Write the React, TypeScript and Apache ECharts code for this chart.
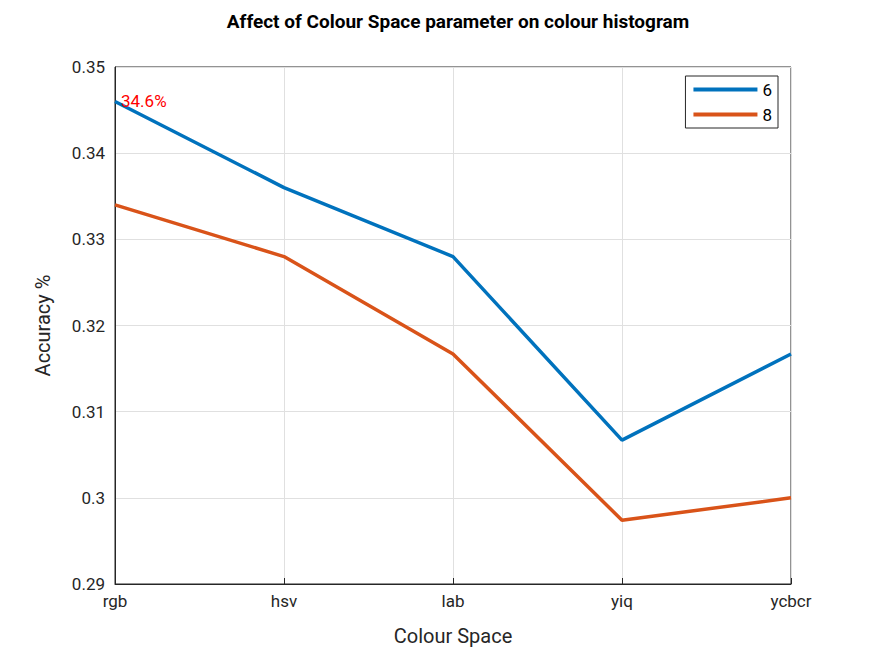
import React, { useEffect, useRef } from "react";
import * as echarts from "echarts";

const categories = ["rgb", "hsv", "lab", "yiq", "ycbcr"];
const series6 = [0.346, 0.336, 0.328, 0.3067, 0.3167];
const series8 = [0.334, 0.328, 0.3167, 0.2974, 0.3];
const yTicks = [0.29, 0.3, 0.31, 0.32, 0.33, 0.34, 0.35];

const FONT = "Roboto, 'DejaVu Sans', sans-serif";

const App: React.FC = () => {
    const chartRef = useRef<HTMLDivElement | null>(null);

    useEffect(() => {
        if (!chartRef.current) return;
        const chart = echarts.init(chartRef.current, undefined, { renderer: "svg" });
        chart.setOption({
            animation: false,
            backgroundColor: "#fff",
            title: {
                text: "Affect of Colour Space parameter on colour histogram",
                left: 453,
                top: 7,
                textAlign: "center",
                textStyle: { fontFamily: FONT, fontSize: 19, fontWeight: "bold", color: "#000" },
            },
            grid: {
                left: 115, right: 84, top: 67, bottom: 72,
                show: true, borderColor: "#262626", borderWidth: 1, backgroundColor: "transparent",
            },
            legend: {
                right: 97, top: 76, orient: "vertical", itemWidth: 64, itemHeight: 4,
                itemGap: 8, backgroundColor: "#fff", borderColor: "#262626", borderWidth: 1,
                padding: [5, 6, 5, 8],
                icon: "rect",
                textStyle: { fontFamily: FONT, fontSize: 17, color: "#000" },
                data: ["6", "8"],
            },
            xAxis: {
                type: "category",
                data: categories,
                boundaryGap: false,
                name: "Colour Space",
                nameLocation: "middle",
                nameGap: 42,
                nameTextStyle: { fontFamily: FONT, fontSize: 20, color: "#262626" },
                axisLine: { lineStyle: { color: "#262626" } },
                axisTick: { inside: true, length: 6, lineStyle: { color: "#262626" } },
                axisLabel: { fontFamily: FONT, fontSize: 17, color: "#262626", margin: 8 },
                splitLine: { show: true, lineStyle: { color: "#e0e0e0" } },
            },
            yAxis: {
                type: "value",
                min: 0.29, max: 0.35, interval: 0.01,
                name: "Accuracy %",
                nameLocation: "middle",
                nameGap: 62,
                nameTextStyle: { fontFamily: FONT, fontSize: 20, color: "#262626" },
                axisLine: { show: true, lineStyle: { color: "#262626" } },
                axisTick: { inside: true, length: 6, lineStyle: { color: "#262626" } },
                axisLabel: {
                    fontFamily: FONT, fontSize: 17, color: "#262626", margin: 10,
                    formatter: (v: number) => {
                        const t = yTicks.find((x) => Math.abs(x - v) < 1e-6);
                        return t === undefined ? "" : String(+t.toFixed(2));
                    },
                },
                splitLine: { show: true, lineStyle: { color: "#e0e0e0" } },
            },
            series: [
                {
                    name: "6", type: "line", data: series6, symbol: "none",
                    lineStyle: { color: "#0072BD", width: 3.5 }, itemStyle: { color: "#0072BD" },
                    markPoint: {
                        symbol: "circle", symbolSize: 0,
                        data: [{ coord: [0, series6[0]], value: "34.6%" }],
                        label: {
                            show: true, position: "right", distance: 6, formatter: "34.6%",
                            color: "#ff0000", fontFamily: FONT, fontSize: 17,
                        },
                    },
                },
                {
                    name: "8", type: "line", data: series8, symbol: "none",
                    lineStyle: { color: "#D95319", width: 3.5 }, itemStyle: { color: "#D95319" },
                },
            ],
        });
        return () => chart.dispose();
    }, []);

    return <div ref={chartRef} style={{ width: 875, height: 656, position: "absolute", left: 0, top: 0 }} />;
};

export default App;
